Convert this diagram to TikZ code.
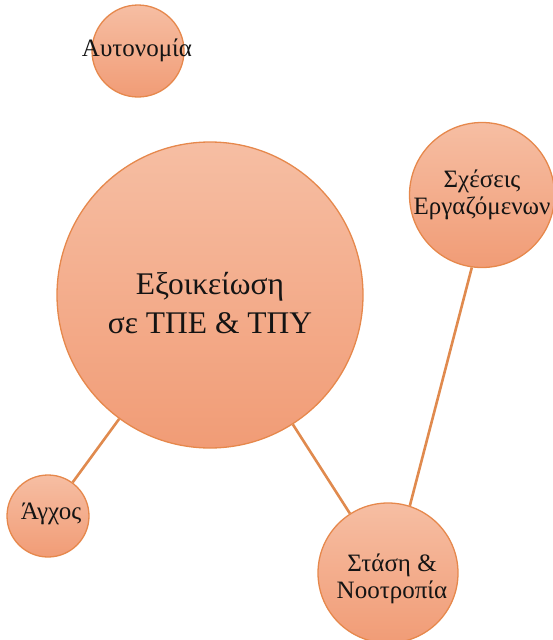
\documentclass[tikz,border=0pt]{standalone}
\usepackage{fontspec}
\setmainfont{Liberation Serif}
\definecolor{ftop}{HTML}{F6BEA3}
\definecolor{fbot}{HTML}{F19C76}
\definecolor{bord}{HTML}{E6884C}
\definecolor{lnk}{HTML}{E08A4E}
\definecolor{txt}{HTML}{141414}
\begin{document}
\begin{tikzpicture}[x=1pt,y=-1pt,
  bubble/.style={circle, draw=bord, line width=1.3pt, top color=ftop, bottom color=fbot, inner sep=0pt},
  lbl/.style={align=center, text=txt, inner sep=0pt},
  bigtext/.style={font=\fontsize{31.5}{39}\selectfont},
  smalltext/.style={font=\fontsize{25}{27}\selectfont},
  link/.style={draw=lnk, line width=2.6pt}]
\useasboundingbox (0,0) rectangle (552,640);
\node[bubble, minimum size=92pt] (auto) at (138,51) {};
\node[bubble, minimum size=306pt] (exo) at (210,295) {};
\node[bubble, minimum size=145pt] (sxe) at (482,195) {};
\node[bubble, minimum size=82pt] (agx) at (48,516) {};
\node[bubble, minimum size=140pt] (sta) at (388,573) {};
\draw[link] (exo) -- (agx);
\draw[link] (exo) -- (sta);
\draw[link] (sxe.262) -- (sta.72);
\node[lbl, smalltext] (autot) at (137,50) {Αυτονομία};
\node[lbl, bigtext] (exot) at (210,303) {Εξοικείωση\\σε ΤΠΕ \& ΤΠΥ};
\node[lbl, smalltext] (sxet) at (482,195) {Σχέσεις\\Εργαζόμενων};
\node[lbl, smalltext] (agxt) at (51,514) {Άγχος};
\node[lbl, smalltext] (stat) at (392,579) {Στάση \&\\Νοοτροπία};
\end{tikzpicture}
\end{document}
